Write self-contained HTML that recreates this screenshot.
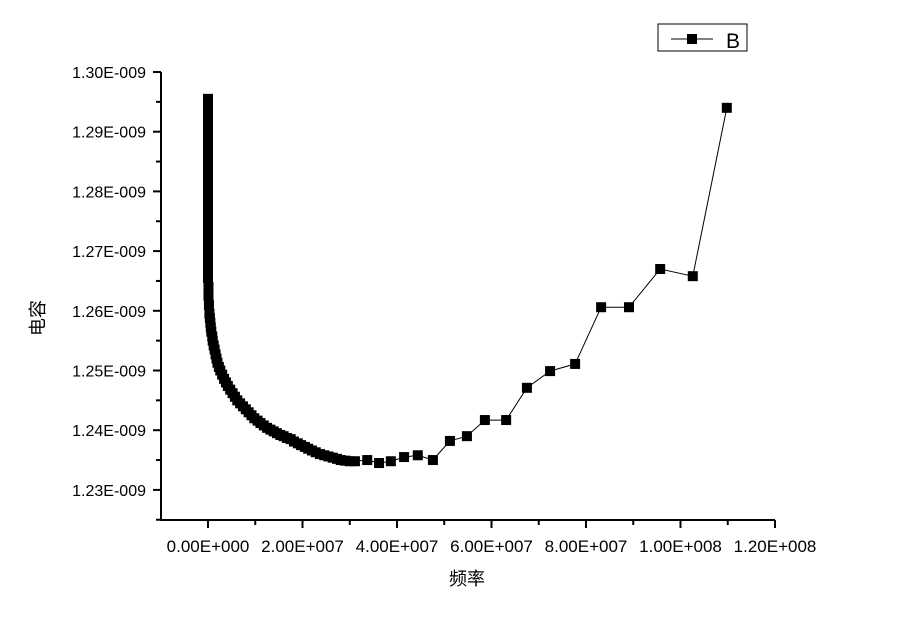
<!DOCTYPE html>
<html><head><meta charset="utf-8"><style>
html,body{margin:0;padding:0;background:#fff;}
svg{display:block;}
text{font-family:"Liberation Sans","Noto Sans CJK SC",sans-serif;fill:#000;}
</style></head><body>
<svg id="chart" width="900" height="624" xmlns="http://www.w3.org/2000/svg">
<g id="axes"></g>
<g id="series"></g>
<g>
<rect x="658" y="24" width="89" height="27" fill="#fff" stroke="#000" stroke-width="1"/>
<line x1="671" y1="39" x2="713" y2="39" stroke="#000" stroke-width="1"/>
<rect x="687" y="34" width="10" height="10" fill="#000"/>
<text x="726" y="48" font-size="21">B</text>
</g>
<text x="467" y="585" font-size="18" text-anchor="middle">频率</text>
<text transform="translate(44,318) rotate(-90)" font-size="18" text-anchor="middle">电容</text>
</svg>
<script>
// frequency in units of 1e7 Hz, capacitance in units of 1e-9 F
const freqs = [0,0,0,0,0,0,0,0,0,0,0,0,0,0,0,0,0,0,0,0,0,0.01,0.01,0.02,0.03,0.04,0.05,0.06,0.07,0.09,0.1,0.12,0.14,0.16,0.18,0.2,0.23,0.26,0.3,0.34,0.38,0.42,0.47,0.52,0.57,0.62,0.68,0.74,0.8,0.86,0.92,0.98,1.05,1.11,1.18,1.25,1.32,1.39,1.46,1.53,1.6,1.67,1.75,1.82,1.9,1.97,2.05,2.12,2.2,2.28,2.37,2.46,2.55,2.64,2.73,2.81,2.9,3.0,3.11,3.37,3.62,3.87,4.15,4.44,4.76,5.12,5.48,5.86,6.31,6.75,7.24,7.77,8.32,8.91,9.57,10.26,10.98];
const caps = [1.2955,1.294,1.2925,1.291,1.2895,1.288,1.2865,1.285,1.2835,1.282,1.2805,1.279,1.2775,1.276,1.2745,1.273,1.2715,1.27,1.2685,1.267,1.2655,1.264,1.2625,1.261,1.2595,1.2588,1.258,1.2572,1.2565,1.2557,1.255,1.2542,1.2535,1.2527,1.252,1.2513,1.2506,1.25,1.2493,1.2486,1.248,1.2474,1.2468,1.2462,1.2456,1.245,1.2445,1.244,1.2435,1.243,1.2425,1.242,1.2416,1.2412,1.2408,1.2404,1.2401,1.2398,1.2395,1.2392,1.239,1.2387,1.2385,1.2381,1.2378,1.2375,1.2372,1.2369,1.2366,1.2363,1.236,1.2358,1.2356,1.2354,1.2352,1.235,1.2349,1.2348,1.2348,1.235,1.2345,1.2348,1.2355,1.2358,1.235,1.2382,1.239,1.2417,1.2417,1.2471,1.2499,1.2511,1.2606,1.2606,1.267,1.2658,1.294];
const xTicks = [0,2,4,6,8,10,12];
const xTickLabels = ["0.00E+000","2.00E+007","4.00E+007","6.00E+007","8.00E+007","1.00E+008","1.20E+008"];
const yTicks = [1.23,1.24,1.25,1.26,1.27,1.28,1.29,1.30];
const yTickLabels = ["1.23E-009","1.24E-009","1.25E-009","1.26E-009","1.27E-009","1.28E-009","1.29E-009","1.30E-009"];

const NS="http://www.w3.org/2000/svg";
const X0=208, XS=47.25, Y0=72, YS=5970;
function xs(f){return X0+f*XS;}
function ys(v){return Y0+(1.30-v)*YS;}
function mk(tag,attrs,parent){const e=document.createElementNS(NS,tag);for(const k in attrs)e.setAttribute(k,attrs[k]);parent.appendChild(e);return e;}
const axes=document.getElementById('axes');
const AX_L=161, AX_B=520, AX_T=72, AX_R=775;
let a=mk('line',{x1:AX_L,y1:AX_T,x2:AX_L,y2:AX_B+1,stroke:'#000','stroke-width':2},axes);


a=mk('line',{x1:AX_L-1,y1:AX_B,x2:AX_R,y2:AX_B,stroke:'#000','stroke-width':2},axes);


for(let i=0;i<xTicks.length;i++){
  const x=xs(xTicks[i]);
  let t=mk('line',{x1:x,y1:AX_B,x2:x,y2:AX_B+8,stroke:'#000','stroke-width':2},axes);
  
  
  const mx=xs(xTicks[i]-1);
  if(mx>=AX_L){let m=mk('line',{x1:mx,y1:AX_B,x2:mx,y2:AX_B+5,stroke:'#000','stroke-width':2},axes);
  
  }
  let l=mk('text',{x:x,y:552,'font-size':17,'text-anchor':'middle'},axes);
  l.textContent=xTickLabels[i];
  
  
}
for(let i=0;i<yTicks.length;i++){
  const y=ys(yTicks[i]);
  let t=mk('line',{x1:AX_L-8,y1:y,x2:AX_L,y2:y,stroke:'#000','stroke-width':2},axes);
  
  
  const my=ys(yTicks[i]-0.005);
  if(my<=AX_B){let m=mk('line',{x1:AX_L-5,y1:my,x2:AX_L,y2:my,stroke:'#000','stroke-width':2},axes);
  
  }
  let l=mk('text',{x:146,y:y+6,'font-size':16,'text-anchor':'end'},axes);
  l.textContent=yTickLabels[i];
  
  
}
const ser=document.getElementById('series');
let d='';
for(let i=0;i<freqs.length;i++){d+=(i?'L':'M')+xs(freqs[i]).toFixed(1)+','+ys(caps[i]).toFixed(1);}
let p=mk('path',{d:d,fill:'none',stroke:'#000','stroke-width':1},ser);


for(let i=0;i<freqs.length;i++){
  let r=mk('rect',{x:xs(freqs[i])-5,y:ys(caps[i])-5,width:10,height:10,fill:'#000'},ser);
  
  
}
</script>
</body></html>
